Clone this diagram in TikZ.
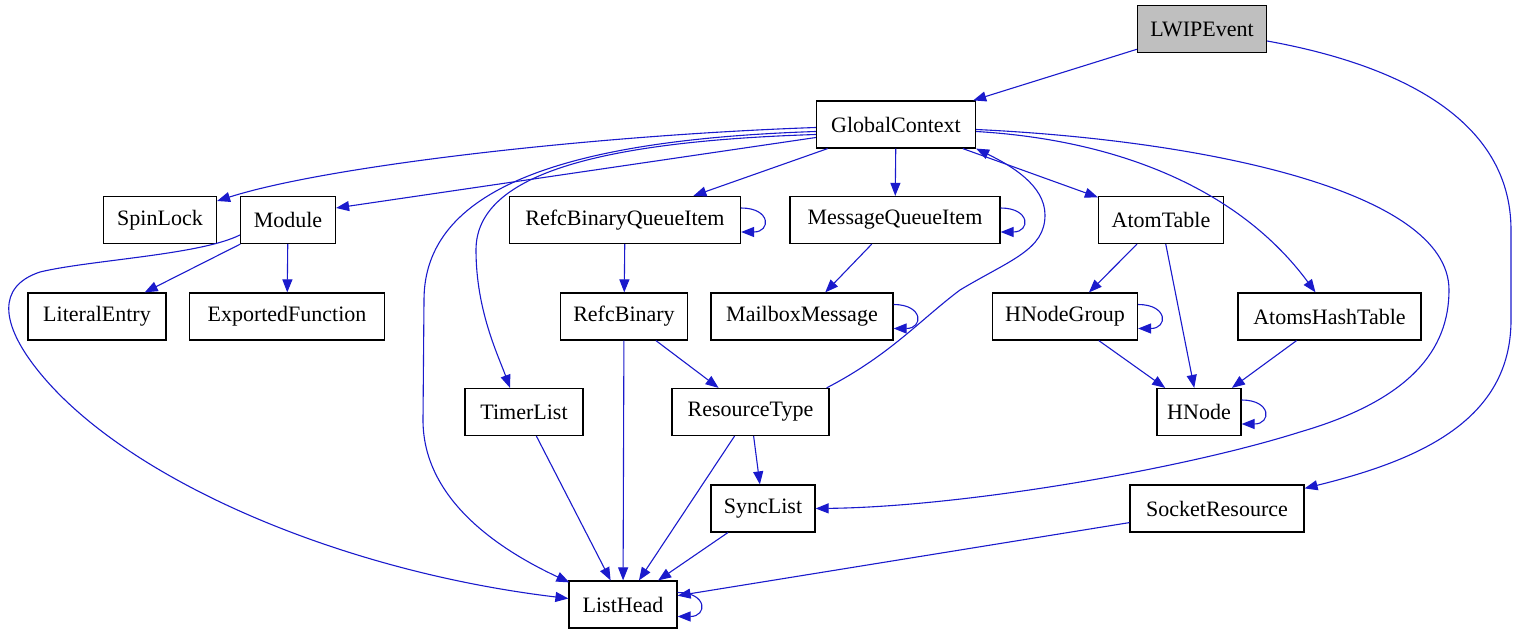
\documentclass[tikz,border=0pt]{standalone}
\usepackage{fontspec}
\setmainfont{Liberation Serif}
\usetikzlibrary{arrows.meta,calc}
\definecolor{edgeblue}{RGB}{26,26,204}
\definecolor{rootgray}{RGB}{191,191,191}
\begin{document}
\begin{tikzpicture}[x=0.5pt,y=-0.5pt,
  box/.style={draw=black,line width=0.6pt,fill=white,rectangle,minimum height=23.5pt,inner sep=0pt,font=\fontsize{11}{13}\selectfont},
  edge/.style={draw=edgeblue,line width=0.55pt,-{Triangle[length=6.5pt,width=5pt]}}]
\useasboundingbox (0,0) rectangle (1516,635);
% nodes
\node[box,fill=rootgray,minimum width=64.5pt] (LWIP) at (1202,29) {LWIPEvent};
\node[box,minimum width=79.5pt] (GC) at (896,124.5) {GlobalContext};
\node[box,minimum width=56.5pt] (SpinLock) at (160,220) {SpinLock};
\node[box,minimum width=47.5pt] (Module) at (288,220) {Module};
\node[box,minimum width=115.5pt] (RBQI) at (625,220) {RefcBinaryQueueItem};
\node[box,minimum width=105pt] (MQI) at (895,220) {MessageQueueItem};
\node[box,minimum width=62.5pt] (AtomTable) at (1161,220) {AtomTable};
\node[box,minimum width=69pt] (LiteralEntry) at (97,316.5) {LiteralEntry};
\node[box,minimum width=97.5pt] (ExportedFunction) at (287,316.5) {ExportedFunction};
\node[box,minimum width=63.5pt] (RefcBinary) at (624,316.5) {RefcBinary};
\node[box,minimum width=91pt] (MailboxMessage) at (802,316.5) {MailboxMessage};
\node[box,minimum width=72.5pt] (HNodeGroup) at (1065,316.5) {HNodeGroup};
\node[box,minimum width=91.5pt] (AtomsHashTable) at (1329.5,316.5) {AtomsHashTable};
\node[box,minimum width=59pt] (TimerList) at (524,412) {TimerList};
\node[box,minimum width=78.5pt] (ResourceType) at (750.5,412) {ResourceType};
\node[box,minimum width=42pt] (HNode) at (1199,412) {HNode};
\node[box,minimum width=52pt] (SyncList) at (763,508.5) {SyncList};
\node[box,minimum width=87pt] (SocketResource) at (1217,508.5) {SocketResource};
\node[box,minimum width=54pt] (ListHead) at (623,604.5) {ListHead};
% straight edges
\draw[edge] (LWIP) -- (GC);
\draw[edge] (GC) -- (RBQI);
\draw[edge] (GC) -- (MQI);
\draw[edge] (GC) -- (AtomTable);
\draw[edge] (Module) -- (LiteralEntry);
\draw[edge] (Module) -- (ExportedFunction);
\draw[edge] (RBQI) -- (RefcBinary);
\draw[edge] (MQI) -- (MailboxMessage);
\draw[edge] (AtomTable) -- (HNodeGroup);
\draw[edge] (AtomTable) -- (HNode);
\draw[edge] (HNodeGroup) -- (HNode);
\draw[edge] (AtomsHashTable) -- (HNode);
\draw[edge] (RefcBinary) -- (ListHead);
\draw[edge] (RefcBinary) -- (ResourceType);
\draw[edge] (TimerList) -- (ListHead);
\draw[edge] (ResourceType) -- (ListHead);
\draw[edge] (ResourceType) -- (SyncList);
\draw[edge] (SyncList) -- (ListHead);
\draw[edge] (SocketResource) -- (ListHead);
% curved edges
\draw[edge] ($(GC.west)+(0,3)$) .. controls (600,135) and (330,165) .. ($(SpinLock.east)+(0,-19)$);
\draw[edge] ($(GC.west)+(0,13)$) -- ($(Module.east)+(0,-12)$);
\draw[edge] ($(GC.west)+(0,7)$) .. controls (560,140) and (424,190) .. (424,300) -- (423,420) .. controls (423,500) and (500,550) .. ($(ListHead.north west)+(1,2)$);
\draw[edge] ($(GC.west)+(0,10)$) .. controls (580,142) and (476,180) .. (476,250) .. controls (476,310) and (498,355) .. ($(TimerList.north)+(-14,0)$);
\draw[edge] ($(ResourceType.north east)+(-3,0)$) .. controls (890,355) and (920,320) .. (960,290) .. controls (1010,260) and (1045,250) .. (1045,215) .. controls (1045,185) and (1010,165) .. (GC.south east);
\draw[edge] ($(GC.east)+(0,7)$) .. controls (1120,140) and (1240,190) .. ($(AtomsHashTable.north)+(-14,0)$);
\draw[edge] ($(GC.east)+(0,5)$) .. controls (1200,140) and (1449,190) .. (1449,290) .. controls (1449,350) and (1410,400) .. (1300,432) .. controls (1180,470) and (960,507) .. (SyncList.east);
\draw[edge] ($(LWIP.east)+(0,12)$) .. controls (1400,65) and (1511,120) .. (1511,230) -- (1511,320) .. controls (1511,420) and (1420,460) .. ($(SocketResource.north east)+(0,4)$);
\draw[edge] ($(Module.west)+(0,15)$) .. controls (200,255) and (90,260) .. (40,272) .. controls (-5,287) and (5,325) .. (30,360) .. controls (110,472) and (330,570) .. ($(ListHead.west)+(0,-6)$);
% self loops
\draw[edge] ($(RBQI.east)+(0,-12)$) .. controls +(30,0) and +(30,0) .. ($(RBQI.east)+(0,12)$);
\draw[edge] ($(MQI.east)+(0,-12)$) .. controls +(30,0) and +(30,0) .. ($(MQI.east)+(0,12)$);
\draw[edge] ($(MailboxMessage.east)+(0,-12)$) .. controls +(30,0) and +(30,0) .. ($(MailboxMessage.east)+(0,12)$);
\draw[edge] ($(HNodeGroup.east)+(0,-12)$) .. controls +(30,0) and +(30,0) .. ($(HNodeGroup.east)+(0,12)$);
\draw[edge] ($(HNode.east)+(0,-12)$) .. controls +(30,0) and +(30,0) .. ($(HNode.east)+(0,12)$);
\draw[edge] ($(ListHead.east)+(0,-12)$) .. controls +(30,0) and +(30,0) .. ($(ListHead.east)+(0,12)$);
\end{tikzpicture}
\end{document}
